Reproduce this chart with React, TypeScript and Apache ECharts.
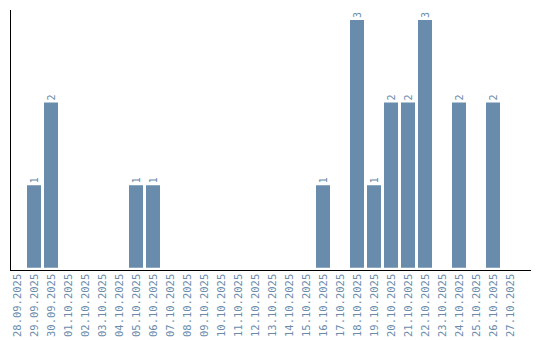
import React, { useEffect, useRef } from "react";
import * as echarts from "echarts";

const categories = [
  "28.09.2025", "29.09.2025", "30.09.2025", "01.10.2025", "02.10.2025", "03.10.2025",
  "04.10.2025", "05.10.2025", "06.10.2025", "07.10.2025", "08.10.2025", "09.10.2025",
  "10.10.2025", "11.10.2025", "12.10.2025", "13.10.2025", "14.10.2025", "15.10.2025",
  "16.10.2025", "17.10.2025", "18.10.2025", "19.10.2025", "20.10.2025", "21.10.2025",
  "22.10.2025", "23.10.2025", "24.10.2025", "25.10.2025", "26.10.2025", "27.10.2025",
];
const values = [
  0, 1, 2, 0, 0, 0, 0, 1, 1, 0, 0, 0, 0, 0, 0, 0, 0, 0,
  1, 0, 3, 1, 2, 2, 3, 0, 2, 0, 2, 0,
];

const BLUE = "#6a8cac";

export default function App() {
  const ref = useRef<HTMLDivElement>(null);
  useEffect(() => {
    if (!ref.current) return;
    const chart = echarts.init(ref.current, undefined, { renderer: "svg" });
    chart.setOption({
      animation: false,
      grid: { left: 8.5, right: 21.5, top: 10, bottom: 70, containLabel: false },
      xAxis: {
        type: "category",
        data: categories,
        axisLine: { show: false },
        axisTick: { show: false },
        axisLabel: {
          rotate: 90,
          interval: 0,
          margin: 6,
          color: BLUE,
          fontFamily: "DejaVu Sans Mono",
          fontSize: 10.5,
        },
      },
      yAxis: {
        type: "value",
        min: 0,
        max: 3.12,
        axisLine: { show: false },
        axisTick: { show: false },
        axisLabel: { show: false },
        splitLine: { show: false },
      },
      series: [
        {
          type: "bar",
          data: values.map((v) => (v === 0 ? null : v)),
          barWidth: 14,
          itemStyle: { color: BLUE },
          label: {
            show: true,
            position: "top",
            rotate: 90,
            align: "left",
            verticalAlign: "middle",
            distance: 2,
            color: BLUE,
            fontFamily: "DejaVu Sans Mono",
            fontSize: 10,
          },
        },
      ],
      graphic: [
        { type: "line", shape: { x1: 10.5, y1: 10, x2: 10.5, y2: 270.5 }, style: { stroke: "#000", lineWidth: 1 } },
        { type: "line", shape: { x1: 10, y1: 270.5, x2: 531, y2: 270.5 }, style: { stroke: "#000", lineWidth: 1 } },
      ],
    });
    return () => chart.dispose();
  }, []);
  return <div ref={ref} style={{ width: 540, height: 340, position: "absolute", left: 0, top: 0 }} />;
}
